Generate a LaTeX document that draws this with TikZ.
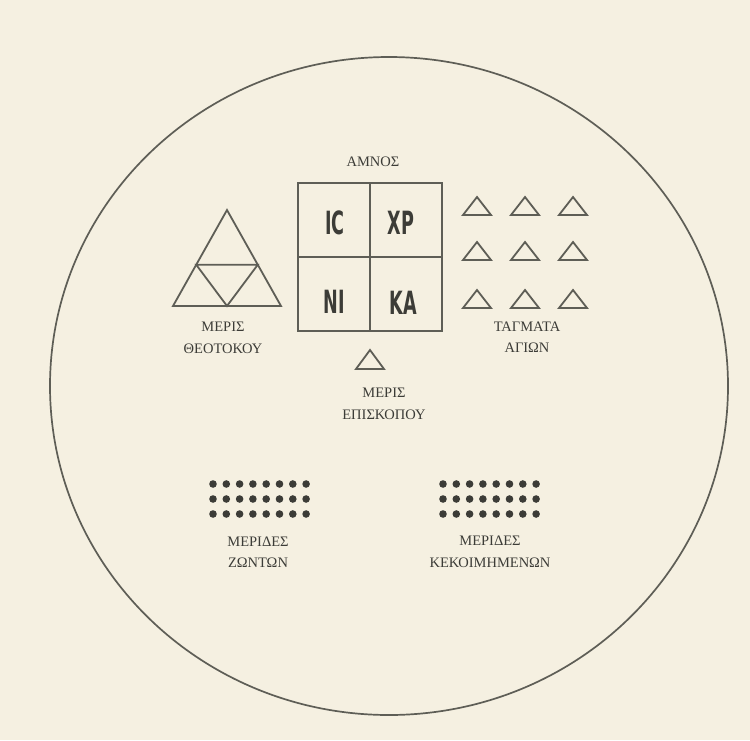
\documentclass[tikz,border=0pt]{standalone}
\usepackage{fontspec}
\usepackage{graphicx}
\setmainfont{Liberation Serif}
\newfontfamily\uncialfont{DejaVu Sans}
\usetikzlibrary{
  positioning, calc,
}
\definecolor{cPaper}{HTML}{F5F0E1}
\definecolor{cInk}  {HTML}{5E5E56}
\definecolor{cText} {HTML}{3C3C37}

\tikzset{
  lbl/.style={font=\fontsize{14.5}{21.5}\selectfont, text=cText, align=center, inner sep=0pt},
  cell/.style={font=\uncialfont\bfseries\fontsize{32}{32}\selectfont, text=cText, inner sep=0pt},
  tri/.style={draw=cInk, line width=1.8pt, line join=miter},
}

\begin{document}
\begin{tikzpicture}[x=1pt, y=-1pt]
  \fill[cPaper] (0,0) rectangle (750,740);
  \draw[cInk, line width=1.7pt] (389,386) ellipse [x radius=339, y radius=329];

  % lamb square
  \node[lbl] (amnoslbl) at (373,162) {ΑΜΝΟΣ};
  \node[draw=cInk, line width=1.8pt, minimum width=144pt, minimum height=148pt, inner sep=0pt] (amnos) at (370,257) {};
  \draw[cInk, line width=1.8pt] (amnos.north) -- (amnos.south);
  \draw[cInk, line width=1.8pt] (amnos.west) -- (amnos.east);
  \node[cell] (ic) at (335,223) {\scalebox{0.55}[1]{ΙϹ}};
  \node[cell] (xp) at (401,223) {\scalebox{0.55}[1]{ΧΡ}};
  \node[cell] (ni) at (334,302) {\scalebox{0.55}[1]{ΝΙ}};
  \node[cell] (ka) at (403,303) {\scalebox{0.55}[1]{ΚΑ}};

  % theotokos
  \coordinate (ta) at (227,210);
  \coordinate (tl) at (173,306);
  \coordinate (tr) at (281,306);
  \draw[tri] (tl) -- (ta) -- (tr) -- cycle;
  \draw[tri] ($(ta)!0.57!(tl)$) -- ($(ta)!0.57!(tr)$) -- ($(tl)!0.5!(tr)$) -- cycle;
  \node[lbl] (theotokos) at (223,338) {ΜΕΡΙΣ\\ΘΕΟΤΟΚΟΥ};

  % saints
  \foreach \c in {477,525,573}
    \foreach \r in {215,260,308}
      \draw[tri] (\c-14,\r) -- (\c,\r-18) -- (\c+14,\r) -- cycle;
  \node[lbl] (tagmata) at (527,337) {ΤΑΓΜΑΤΑ\\ΑΓΙΩΝ};

  % bishop
  \draw[tri] (356,369) -- (370,350) -- (384,369) -- cycle;
  \node[lbl] (episkopou) at (384,404) {ΜΕΡΙΣ\\ΕΠΙΣΚΟΠΟΥ};

  % living and departed
  \foreach \i in {0,...,7}
    \foreach \j in {0,1,2} {
      \fill[cText] (213+\i*13.3, 484+\j*15) circle (3.8);
      \fill[cText] (443+\i*13.3, 484+\j*15) circle (3.8);
    }
  \node[lbl] (zonton) at (258,552) {ΜΕΡΙΔΕΣ\\ΖΩΝΤΩΝ};
  \node[lbl] (kekoim) at (490,552) {ΜΕΡΙΔΕΣ\\ΚΕΚΟΙΜΗΜΕΝΩΝ};
\end{tikzpicture}
\end{document}
